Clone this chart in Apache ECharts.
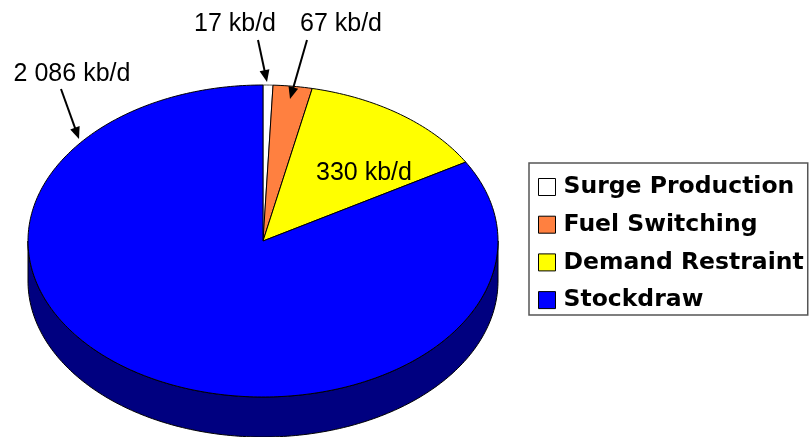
<!DOCTYPE html>
<html>
<head>
<meta charset="utf-8">
<script src="https://cdn.jsdelivr.net/npm/echarts@6/dist/echarts.min.js"></script>
<style>html,body{margin:0;padding:0;background:#fff}#c{width:811px;height:437px}</style>
</head>
<body>
<div id="c"></div>
<script>
// ---- data ----
const categories = ['Surge Production', 'Fuel Switching', 'Demand Restraint', 'Stockdraw'];
const values = [17, 67, 330, 2086];
const unit = 'kb/d';

// ---- styles ----
const topColors = ['#FFFFFF', '#FF8040', '#FFFF00', '#0000FF'];
const sideColors = ['#C0C0C0', '#A05020', '#A0A000', '#000080'];
const edgeColors = ['#555555', '#000000', '#000000', '#000000'];
// 3D pie geometry
const CX = 263, CY = 241, RX = 235, RY = 156, DEPTH = 40;
// annotation layout (label centre, optional arrow from -> to)
const labelLayout = [
  { x: 235, y: 24, arrow: [[258, 40], [267, 82]] },
  { x: 341, y: 24, arrow: [[307, 40], [290, 99]] },
  { x: 364, y: 173, arrow: null },
  { x: 72, y: 74, arrow: [[61, 89], [79, 139]] }
];

const total = values.reduce((a, b) => a + b, 0);
const starts = [];
values.reduce((acc, v, i) => { starts[i] = acc; return acc + v; }, 0);

function fmt(v) { return String(v).replace(/\B(?=(\d{3})+(?!\d))/g, ' ') + ' ' + unit; }
function pt(deg, dy) {
  const r = deg * Math.PI / 180;
  return [CX + RX * Math.sin(r), CY - RY * Math.cos(r) + (dy || 0)];
}
function arc(a0, a1, dy) {
  const n = Math.max(2, Math.ceil(Math.abs(a1 - a0)));
  const pts = [];
  for (let i = 0; i <= n; i++) pts.push(pt(a0 + (a1 - a0) * i / n, dy));
  return pts;
}

function makeRender(idx) {
  return function (params, api) {
    const s = api.value(0), v = api.value(1);
    const a0 = s / total * 360, a1 = (s + v) / total * 360;
    const children = [];
    // side wall (front half only)
    const b0 = Math.max(a0, 90), b1 = Math.min(a1, 270);
    if (b0 < b1) {
      const pts = arc(b0, b1, 0).concat(arc(b1, b0, DEPTH));
      children.push({
        type: 'polygon', shape: { points: pts },
        style: { fill: sideColors[idx], stroke: '#000', lineWidth: 1 }
      });
    }
    // top face
    const topPts = [[CX, CY]].concat(arc(a0, a1, 0));
    children.push({
      type: 'polygon', shape: { points: topPts },
      style: { fill: topColors[idx], stroke: edgeColors[idx], lineWidth: 1, lineJoin: 'round' }
    });
    // label
    const L = labelLayout[idx];
    children.push({
      type: 'text',
      style: {
        text: fmt(v), x: L.x, y: L.y, fill: '#000',
        fontSize: 25, fontFamily: 'Liberation Sans', align: 'center', verticalAlign: 'middle'
      }
    });
    if (L.arrow) {
      const [p, q] = L.arrow;
      const dx = q[0] - p[0], dy = q[1] - p[1];
      const len = Math.sqrt(dx * dx + dy * dy);
      const ux = dx / len, uy = dy / len;
      const hl = 12, hw = 5;
      const bx = q[0] - ux * hl, by = q[1] - uy * hl;
      children.push({
        type: 'line', shape: { x1: p[0], y1: p[1], x2: bx + ux, y2: by + uy },
        style: { stroke: '#000', lineWidth: 2 }
      });
      children.push({
        type: 'polygon',
        shape: { points: [[q[0], q[1]], [bx - uy * hw, by + ux * hw], [bx + uy * hw, by - ux * hw]] },
        style: { fill: '#000' }
      });
    }
    return { type: 'group', children: children };
  };
}

const series = categories.map((name, i) => ({
  type: 'custom',
  name: name,
  coordinateSystem: 'none',
  renderItem: makeRender(i),
  itemStyle: { color: topColors[i], borderColor: '#000', borderWidth: 1 },
  data: [[starts[i], values[i]]],
  silent: true,
  animation: false
}));

const chart = echarts.init(document.getElementById('c'), null, { renderer: 'canvas' });
chart.setOption({
  backgroundColor: '#fff',
  animation: false,
  legend: {
    orient: 'vertical',
    left: 529, top: 163,
    padding: [12, 4, 3, 9],
    borderColor: '#555', borderWidth: 1.5,
    icon: 'rect',
    itemWidth: 17, itemHeight: 17,
    itemGap: 13.7,
    itemStyle: { borderColor: '#000', borderWidth: 1 },
    textStyle: { fontSize: 23.5, fontWeight: 'bold', fontFamily: 'DejaVu Sans', color: '#000', lineHeight: 24, padding: [0, 0, 0, 3] },
    data: categories
  },
  series: series
});
</script>
</body>
</html>
